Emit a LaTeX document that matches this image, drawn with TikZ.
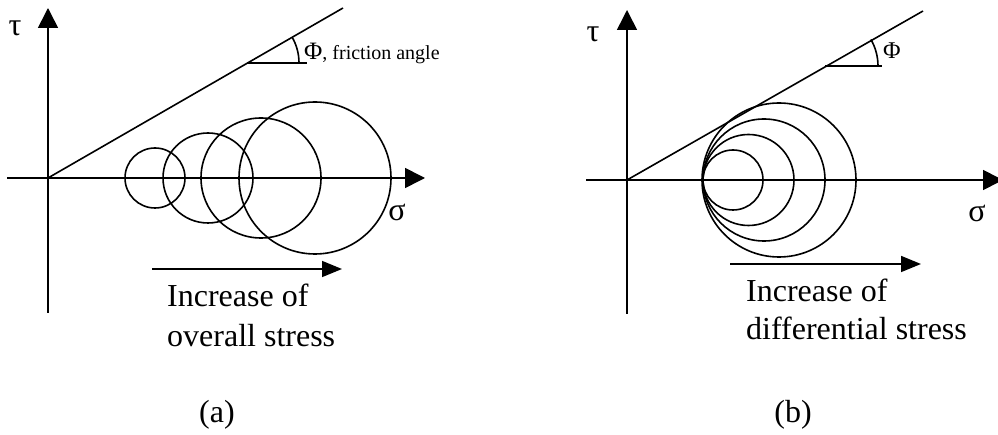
\documentclass[tikz,border=0pt]{standalone}
\usepackage{fontspec}
\setmainfont{Liberation Serif}
\usetikzlibrary{arrows.meta}
\tikzset{
  ln/.style={line width=1.6pt},
  axis/.style={ln,-{Triangle[length=20pt,width=20pt]}},
  incarrow/.style={ln,-{Triangle[length=20pt,width=16pt]}},
  big/.style={inner sep=0pt,font=\fontsize{32}{38}\selectfont},
  small/.style={inner sep=0pt,font=\fontsize{20}{24}\selectfont},
}
\begin{document}
\begin{tikzpicture}[x=1pt,y=-1pt]
\useasboundingbox (0,0) rectangle (998,435);
% ---------- panel (a) ----------
\coordinate (oA) at (48,178);
\coordinate (aTop) at (48,8);
\coordinate (aBot) at (48,313);
\coordinate (aLeft) at (7,178);
\coordinate (aRight) at (425,178);
\coordinate (aLineEnd) at (343,8);
\coordinate (aVtx) at (247,63);
\coordinate (aHor) at (307,63);
\draw[ln] (aBot) -- (oA);
\draw[axis] (oA) -- (aTop);
\draw[axis] (aLeft) -- (aRight);
\draw[ln] (oA) -- (aLineEnd);
\draw[ln] (aVtx) -- (aHor);
\draw[ln] ([shift={(0:52)}]aVtx) arc[start angle=0,end angle=-30,radius=52];
\draw[ln] (155,178) circle[radius=30];
\draw[ln] (208,178) circle[radius=45];
\draw[ln] (261,178) circle[radius=60];
\draw[ln] (315,178) circle[radius=76];
\node[big,anchor=base] (tauA) at (15,36) {τ};
\node[big,anchor=base] (sigA) at (397,221) {σ};
\node[small,anchor=base west] (phiA) at (304,60) {{\fontsize{25}{28}\selectfont Φ}, friction angle};
\coordinate (incAs) at (152,269);
\coordinate (incAe) at (342,269);
\draw[incarrow] (incAs) -- (incAe);
\node[big,anchor=base west] (txtA1) at (167,307) {Increase of};
\node[big,anchor=base west] (txtA2) at (167,346) {overall stress};
\node[big,anchor=base] (labA) at (217,422) {(a)};
% ---------- panel (b) ----------
\coordinate (oB) at (627,180);
\coordinate (bTop) at (627,10);
\coordinate (bBot) at (627,314);
\coordinate (bLeft) at (586,180);
\coordinate (bRight) at (1003,180);
\coordinate (bLineEnd) at (923,11);
\coordinate (bVtx) at (825,66);
\coordinate (bHor) at (882,66);
\draw[ln] (bBot) -- (oB);
\draw[axis] (oB) -- (bTop);
\draw[axis] (bLeft) -- (bRight);
\draw[ln] (oB) -- (bLineEnd);
\draw[ln] (bVtx) -- (bHor);
\draw[ln] ([shift={(0:53)}]bVtx) arc[start angle=0,end angle=-30,radius=53];
\draw[ln] (733,180) circle[radius=30];
\draw[ln] (748.5,180) circle[radius=45.5];
\draw[ln] (764,180) circle[radius=61];
\draw[ln] (779,180) circle[radius=77];
\node[big,anchor=base] (tauB) at (593,42) {τ};
\node[big,anchor=base] (sigB) at (977,222) {σ};
\node[inner sep=0pt,font=\fontsize{24}{28}\selectfont,anchor=base west] (phiB) at (883,59) {Φ};
\coordinate (incBs) at (730,264);
\coordinate (incBe) at (921,264);
\draw[incarrow] (incBs) -- (incBe);
\node[big,anchor=base west] (txtB1) at (746,302) {Increase of};
\node[big,anchor=base west] (txtB2) at (746,339) {differential stress};
\node[big,anchor=base] (labB) at (793,422) {(b)};
\end{tikzpicture}
\end{document}
